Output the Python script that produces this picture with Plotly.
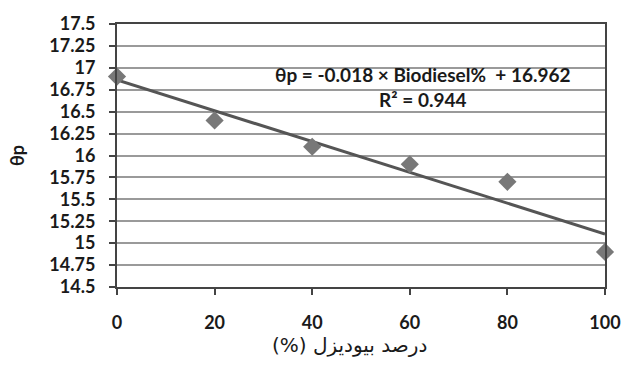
import numpy as np
import plotly.graph_objects as go

biodiesel = [0, 20, 40, 60, 80, 100]
theta_p = [16.9, 16.4, 16.1, 15.9, 15.7, 14.9]
eq_slope = "-0.018"
eq_intercept = "16.962"
eq_r2 = "0.944"
y_ticks = [14.5, 14.75, 15, 15.25, 15.5, 15.75, 16, 16.25, 16.5, 16.75, 17, 17.25, 17.5]
y_tick_text = ["14.5", "14.75", "15", "15.25", "15.5", "15.75", "16", "16.25", "16.5", "16.75", "17", "17.25", "17.5"]
x_ticks = [0, 20, 40, 60, 80, 100]

# least-squares trend line of the data
m, b = np.polyfit(biodiesel, theta_p, 1)
trend_x = [biodiesel[0], biodiesel[-1]]
trend_y = [b + m * v for v in trend_x]

fig = go.Figure()
fig.add_trace(go.Scatter(x=trend_x, y=trend_y, mode="lines",
                         line=dict(color="#555555", width=3), cliponaxis=False,
                         showlegend=False))
fig.add_trace(go.Scatter(x=biodiesel, y=theta_p, mode="markers",
                         marker=dict(symbol="diamond", size=14, color="#787878"),
                         cliponaxis=False, showlegend=False))

fig.add_annotation(x=0.628, y=0.76, xref="paper", yref="paper", showarrow=False,
                   xanchor="center", yanchor="middle",
                   text=f"θp = {eq_slope} × Biodiesel%  + {eq_intercept}<br>R² = {eq_r2}",
                   font=dict(family="Lato", size=19, color="#1a1a1a", weight="bold"),
                   align="center")

fig.add_annotation(x=0.476, y=-0.22, xref="paper", yref="paper", showarrow=False,
                   xanchor="center", yanchor="middle",
                   text="درصد بیودیزل (%)\u200f",
                   font=dict(family="DejaVu Sans", size=20, color="#1a1a1a"))

fig.update_layout(
    width=633, height=365,
    margin=dict(l=117, r=16, t=18, b=78),
    paper_bgcolor="white", plot_bgcolor="white",
    font=dict(family="Lato", color="#1a1a1a"),
    xaxis=dict(range=[0, 100], tickvals=x_ticks, showgrid=False, zeroline=False,
               showline=True, linecolor="#444", linewidth=2, mirror=True,
               ticks="outside", ticklen=6, tickcolor="#444", tickwidth=1.5,
               ticklabelstandoff=12,
               tickfont=dict(family="Lato", size=18, weight="bold", color="#1a1a1a")),
    yaxis=dict(range=[14.5, 17.5], tickvals=y_ticks, ticktext=y_tick_text,
               showgrid=True, gridcolor="#9a9a9a", gridwidth=1.5, zeroline=False,
               showline=True, linecolor="#444", linewidth=2, mirror=True,
               ticks="outside", ticklen=6, tickcolor="#444", tickwidth=1.5,
               ticklabelstandoff=10,
               tickfont=dict(family="Lato", size=18, weight="bold", color="#1a1a1a"),
               title=dict(text="θp", standoff=20,
                          font=dict(family="Lato", size=18, weight="bold", color="#1a1a1a"))),
)

fig.write_html("out.html")
